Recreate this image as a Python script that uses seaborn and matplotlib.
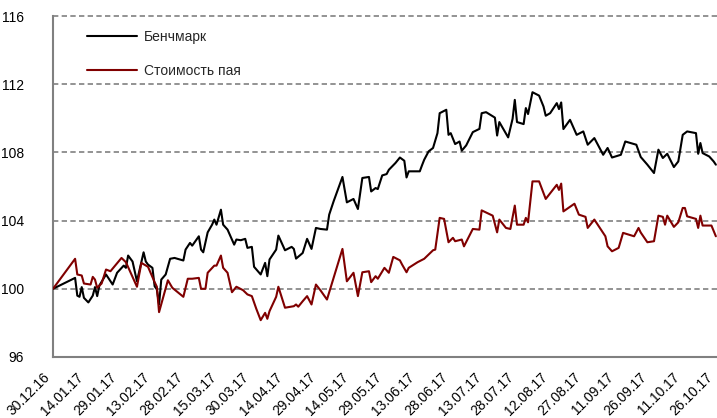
import matplotlib
matplotlib.use("Agg")
import matplotlib.pyplot as plt
import seaborn as sns
import pandas as pd

# ---- data ----
bench_dates = [
    "30.12.16", "09.01.17", "10.01.17", "11.01.17", "12.01.17", "13.01.17", "15.01.17", "17.01.17",
    "18.01.17", "19.01.17", "20.01.17", "23.01.17", "26.01.17", "28.01.17", "31.01.17", "01.02.17",
    "02.02.17", "04.02.17", "06.02.17", "09.02.17", "10.02.17", "11.02.17", "13.02.17", "14.02.17",
    "15.02.17", "16.02.17", "17.02.17", "19.02.17", "21.02.17", "23.02.17", "27.02.17", "28.02.17",
    "02.03.17", "03.03.17", "06.03.17", "07.03.17", "08.03.17", "10.03.17", "12.03.17", "13.03.17",
    "14.03.17", "16.03.17", "17.03.17", "19.03.17", "21.03.17", "22.03.17", "23.03.17", "25.03.17",
    "27.03.17", "28.03.17", "30.03.17", "31.03.17", "03.04.17", "05.04.17", "06.04.17", "07.04.17",
    "10.04.17", "11.04.17", "14.04.17", "17.04.17", "18.04.17", "19.04.17", "22.04.17", "24.04.17",
    "26.04.17", "28.04.17", "30.04.17", "03.05.17", "04.05.17", "06.05.17", "10.05.17", "12.05.17",
    "15.05.17", "17.05.17", "19.05.17", "22.05.17", "23.05.17", "25.05.17", "26.05.17", "28.05.17",
    "30.05.17", "31.05.17", "03.06.17", "05.06.17", "07.06.17", "08.06.17", "09.06.17", "14.06.17",
    "15.06.17", "16.06.17", "18.06.17", "20.06.17", "22.06.17", "23.06.17", "26.06.17", "27.06.17",
    "28.06.17", "30.06.17", "02.07.17", "03.07.17", "05.07.17", "08.07.17", "11.07.17", "12.07.17",
    "14.07.17", "18.07.17", "19.07.17", "20.07.17", "24.07.17", "26.07.17", "27.07.17", "28.07.17",
    "31.07.17", "01.08.17", "02.08.17", "04.08.17", "07.08.17", "09.08.17", "10.08.17", "12.08.17",
    "15.08.17", "16.08.17", "17.08.17", "18.08.17", "21.08.17", "24.08.17", "27.08.17", "29.08.17",
    "01.09.17", "05.09.17", "07.09.17", "09.09.17", "13.09.17", "15.09.17", "20.09.17", "22.09.17",
    "25.09.17", "28.09.17", "30.09.17", "02.10.17", "04.10.17", "07.10.17", "09.10.17", "11.10.17",
    "13.10.17", "17.10.17", "18.10.17", "19.10.17", "20.10.17", "23.10.17", "25.10.17", "26.10.17",
]
bench_values = [
    100.0, 100.64, 99.6, 99.53, 100.1, 99.47, 99.2, 99.6,
    100.1, 99.57, 100.2, 100.84, 100.25, 100.94, 101.36, 101.23,
    101.95, 101.6, 100.44, 102.14, 101.6, 101.42, 101.23, 100.15,
    99.96, 99.08, 100.54, 100.84, 101.76, 101.81, 101.66, 102.3,
    102.69, 102.53, 103.08, 102.3, 102.14, 103.31, 103.76, 104.06,
    103.76, 104.64, 103.76, 103.47, 102.89, 102.59, 102.89, 102.85,
    102.93, 102.4, 102.46, 101.29, 100.84, 101.52, 100.74, 101.72,
    102.3, 103.12, 102.26, 102.46, 102.34, 101.77, 102.1, 102.93,
    102.34, 103.57, 103.51, 103.47, 104.35, 105.13, 106.56, 105.07,
    105.27, 104.68, 106.5, 106.56, 105.71, 105.91, 105.85, 106.65,
    106.73, 106.98, 107.38, 107.70, 107.51, 106.53, 106.89, 106.89,
    107.24, 107.57, 108.06, 108.26, 109.13, 110.30, 110.50, 109.03,
    109.13, 108.49, 108.64, 108.1, 108.41, 109.19, 109.38, 110.30,
    110.36, 110.04, 108.99, 109.78, 108.88, 109.97, 111.08, 109.78,
    109.66, 110.6, 110.25, 111.53, 111.33, 110.69, 110.15, 110.30,
    110.89, 110.54, 110.93, 109.37, 109.91, 109.03, 109.23, 108.45,
    108.84, 107.86, 108.26, 107.70, 107.86, 108.64, 108.45, 107.73,
    107.28, 106.79, 108.16, 107.67, 107.92, 107.14, 107.47, 109.03,
    109.23, 109.13, 107.92, 108.55, 107.96, 107.76, 107.47, 107.28,
]

nav_dates = [
    "30.12.16", "09.01.17", "10.01.17", "12.01.17", "13.01.17", "16.01.17", "17.01.17", "18.01.17",
    "19.01.17", "21.01.17", "23.01.17", "25.01.17", "30.01.17", "01.02.17", "06.02.17", "08.02.17",
    "11.02.17", "14.02.17", "15.02.17", "16.02.17", "18.02.17", "20.02.17", "22.02.17", "27.02.17",
    "01.03.17", "03.03.17", "06.03.17", "07.03.17", "09.03.17", "10.03.17", "13.03.17", "14.03.17",
    "16.03.17", "17.03.17", "19.03.17", "21.03.17", "23.03.17", "26.03.17", "28.03.17", "30.03.17",
    "01.04.17", "03.04.17", "05.04.17", "06.04.17", "07.04.17", "10.04.17", "11.04.17", "14.04.17",
    "18.04.17", "19.04.17", "20.04.17", "22.04.17", "24.04.17", "26.04.17", "28.04.17", "30.04.17",
    "03.05.17", "10.05.17", "12.05.17", "15.05.17", "17.05.17", "19.05.17", "22.05.17", "23.05.17",
    "25.05.17", "26.05.17", "29.05.17", "31.05.17", "02.06.17", "05.06.17", "06.06.17", "08.06.17",
    "09.06.17", "13.06.17", "16.06.17", "20.06.17", "21.06.17", "23.06.17", "25.06.17", "27.06.17",
    "29.06.17", "30.06.17", "03.07.17", "04.07.17", "08.07.17", "11.07.17", "12.07.17", "17.07.17",
    "19.07.17", "20.07.17", "23.07.17", "25.07.17", "27.07.17", "28.07.17", "31.07.17", "01.08.17",
    "02.08.17", "04.08.17", "07.08.17", "10.08.17", "15.08.17", "16.08.17", "17.08.17", "18.08.17",
    "23.08.17", "25.08.17", "28.08.17", "29.08.17", "01.09.17", "06.09.17", "07.09.17", "09.09.17",
    "12.09.17", "14.09.17", "19.09.17", "21.09.17", "22.09.17", "25.09.17", "28.09.17", "30.09.17",
    "02.10.17", "03.10.17", "04.10.17", "07.10.17", "09.10.17", "11.10.17", "12.10.17", "13.10.17",
    "17.10.17", "18.10.17", "19.10.17", "20.10.17", "24.10.17", "26.10.17",
]
nav_values = [
    100.0, 101.76, 100.84, 100.78, 100.31, 100.25, 100.7, 100.54,
    100.06, 100.31, 101.13, 101.03, 101.81, 101.56, 100.12, 101.52,
    101.29, 100.39, 100.12, 98.63, 99.57, 100.5, 100.06, 99.53,
    100.59, 100.59, 100.64, 100.0, 100.0, 100.94, 101.36, 101.36,
    101.95, 101.23, 100.94, 99.8, 100.12, 99.92, 99.67, 99.57,
    98.83, 98.16, 98.59, 98.24, 98.69, 99.53, 100.12, 98.89,
    98.98, 99.08, 98.95, 99.27, 99.57, 99.08, 100.25, 99.92,
    99.37, 102.34, 100.44, 100.94, 99.57, 100.97, 101.03, 100.39,
    100.74, 100.59, 101.23, 100.94, 101.87, 101.67, 101.42, 100.97,
    101.23, 101.56, 101.76, 102.26, 102.3, 104.16, 104.1, 102.73,
    102.99, 102.79, 102.89, 102.49, 103.51, 103.47, 104.6, 104.29,
    103.31, 104.06, 103.57, 103.51, 104.88, 103.76, 103.76, 104.16,
    103.9, 106.3, 106.3, 105.27, 106.1, 105.8, 106.17, 104.54,
    104.99, 104.35, 104.22, 103.57, 104.06, 103.08, 102.49, 102.2,
    102.4, 103.28, 103.08, 103.57, 103.3, 102.73, 102.79, 104.29,
    104.22, 103.76, 104.29, 103.63, 103.9, 104.74, 104.74, 104.25,
    104.1, 103.57, 104.29, 103.71, 103.71, 103.08,
]

series_names = ["Бенчмарк", "Стоимость пая"]
y_ticks = [96, 100, 104, 108, 112, 116]

# ---- build data ----
df = pd.concat([
    pd.DataFrame({"date": pd.to_datetime(bench_dates, format="%d.%m.%y"),
                  "value": bench_values, "series": series_names[0]}),
    pd.DataFrame({"date": pd.to_datetime(nav_dates, format="%d.%m.%y"),
                  "value": nav_values, "series": series_names[1]}),
], ignore_index=True)

sns.set_theme(style="white")
plt.rcParams["font.family"] = ["Liberation Sans", "DejaVu Sans"]

fig = plt.figure(figsize=(7.17, 4.18), dpi=100)
ax = fig.add_axes([53 / 717, 1 - 357 / 418, (716.6 - 53) / 717, (357 - 16) / 418])

grid_color = "#808080"
for yv in y_ticks[1:]:
    ax.axhline(yv, color=grid_color, lw=1.2, ls=(0, (3.2, 2.0)), zorder=1, clip_on=False)

sns.lineplot(data=df, x="date", y="value", hue="series",
             palette={series_names[0]: "#000000", series_names[1]: "#800000"},
             estimator=None, sort=False, linewidth=1.5, ax=ax, zorder=3)

start = pd.Timestamp("2016-12-30")
end = pd.Timestamp("2017-10-26")
ax.set_xlim(start, end + pd.Timedelta(hours=8))
ax.set_ylim(96, 116)
ax.set_yticks(y_ticks)
xt = pd.date_range(start, end, freq="15D")
ax.set_xticks(xt)
ax.set_xticklabels([d.strftime("%d.%m.%y") for d in xt], rotation=45,
                   ha="right", va="top", rotation_mode="default", fontsize=10)
ax.set_yticklabels([str(v) for v in y_ticks], fontsize=10)
ax.set_xlabel("")
ax.set_ylabel("")

for s in ["top", "right"]:
    ax.spines[s].set_visible(False)
for s in ["left", "bottom"]:
    ax.spines[s].set_color(grid_color)
    ax.spines[s].set_linewidth(1.5)
ax.tick_params(axis="both", colors=grid_color, labelcolor="black", direction="out",
               length=4, width=1.2)
ax.tick_params(axis="y", pad=17)
ax.tick_params(axis="x", pad=5.5)

leg = ax.legend(loc="upper left", bbox_to_anchor=(0.051, 0.959), frameon=False,
                fontsize=10, handlelength=3.6, handletextpad=0.5, labelspacing=1.45,
                borderpad=0, borderaxespad=0)
for line in leg.get_lines():
    line.set_linewidth(1.5)

fig.savefig("out.png", dpi=100)
